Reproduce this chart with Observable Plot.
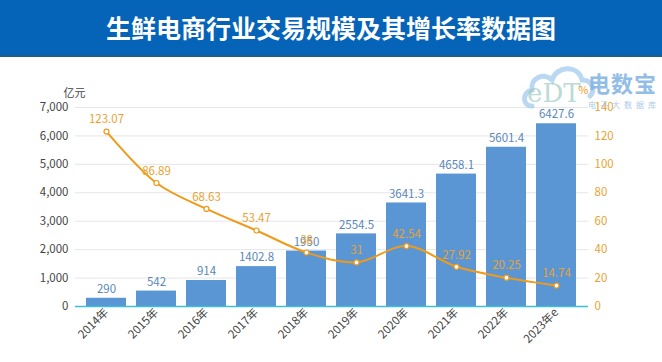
<!DOCTYPE html>
<html><head><meta charset="utf-8">
<script src="https://cdn.jsdelivr.net/npm/d3@7"></script>
<script src="https://cdn.jsdelivr.net/npm/@observablehq/plot@0.6"></script>
<style>
body{margin:0;background:#fff;font-family:"Noto Sans CJK SC","Noto Sans",sans-serif;width:662px;height:362px;overflow:hidden;position:relative}
#title{height:55px;background:#0563b8;color:#fff;font-size:25px;font-weight:bold;text-align:center;line-height:55px;border-bottom:2px solid #1d5c8f;}
#wm{position:absolute;left:588px;top:66px;color:#7fb2e2;font-size:22px;font-weight:bold;letter-spacing:1px;opacity:0.85}
#wm2{position:absolute;left:588px;top:99px;color:#9cc4e8;font-size:8px;letter-spacing:4px;opacity:0.85}
#wm3{position:absolute;left:527px;top:78px;color:#8fc4b8;font-size:26px;font-family:"DejaVu Serif",serif;opacity:0.6}
#cloud{position:absolute;left:520px;top:58px}
#chart{position:absolute;left:0;top:57px}
</style></head><body>
<div id="title">生鲜电商行业交易规模及其增长率数据图</div>
<div id="chart"></div>
<svg id="cloud" width="80" height="60"><path d="M12,48 C2,48 2,34 12,32 C10,20 24,14 32,22 C36,8 58,6 62,22 C72,22 76,32 70,38" fill="none" stroke="#9cc8ec" stroke-width="5" stroke-linecap="round" opacity="0.7"/></svg>
<div id="wm3">eDT</div>
<div id="wm">电数宝</div>
<div id="wm2">电子大数据库</div>
<script>
const years = ["2014年","2015年","2016年","2017年","2018年","2019年","2020年","2021年","2022年","2023年e"];
const scaleValues = [290, 542, 914, 1402.8, 1950, 2554.5, 3641.3, 4658.1, 5601.4, 6427.6];
const growthValues = [123.07, 86.89, 68.63, 53.47, 38, 31, 42.54, 27.92, 20.25, 14.74];
const leftTicks = [0, 1000, 2000, 3000, 4000, 5000, 6000, 7000];
const rightTicks = [0, 20, 40, 60, 80, 100, 120, 140];
const k = leftTicks[leftTicks.length - 1] / rightTicks[rightTicks.length - 1];

const data = years.map((y, i) => ({year: y, v: scaleValues[i], g: growthValues[i] * k, gl: growthValues[i]}));
const orange = "#f09a1a";

const chart = Plot.plot({
  width: 662, height: 305,
  marginLeft: 75, marginRight: 74, marginTop: 50, marginBottom: 56,
  style: {fontFamily: '"Noto Sans CJK SC","Noto Sans",sans-serif', fontSize: "11px", background: "transparent", overflow: "visible"},
  x: {domain: years, padding: 0.2, label: null},
  y: {domain: [0, 7000], label: null},
  marks: [
    Plot.gridY(leftTicks, {stroke: "#e6e6e6", strokeOpacity: 1}),
    Plot.barY(data, {x: "year", y: "v", fill: "#5a96d4"}),
    Plot.ruleY([0], {stroke: "#3bbfd6", strokeWidth: 1.5}),
    Plot.text(data, {x: "year", y: "v", text: d => String(d.v), dy: -9, fill: "#5a88b8", fontSize: 11.5}),
    Plot.lineY(data, {x: "year", y: "g", stroke: orange, strokeWidth: 2, curve: "catmull-rom"}),
    Plot.dot(data, {x: "year", y: "g", r: 2.5, fill: "white", stroke: orange, strokeWidth: 1.2}),
    Plot.text(data, {x: "year", y: "g", text: d => String(d.gl), dy: -12, fill: "#e9a232", fontSize: 11.5}),
    Plot.axisY(leftTicks, {anchor: "left", tickSize: 0, tickPadding: 7, tickFormat: d3.format(","), fill: "#444", fontSize: 11.5, label: null}),
    Plot.axisY(leftTicks, {anchor: "right", tickSize: 0, tickPadding: 6, tickFormat: d => String(d / k), fill: "#e9a232", fontSize: 11.5, label: null}),
    Plot.axisX({tickRotate: -45, tickSize: 0, tickPadding: 4, fill: "#444", fontSize: 11.5, label: null}),
    Plot.text(["亿元"], {frameAnchor: "top-left", dx: -12, dy: -18, fill: "#444", fontSize: 11}),
    Plot.text(["%"], {frameAnchor: "top-right", dx: 0, dy: -21, fill: orange, fontSize: 11})
  ]
});
document.getElementById("chart").appendChild(chart);
</script>
</body></html>
